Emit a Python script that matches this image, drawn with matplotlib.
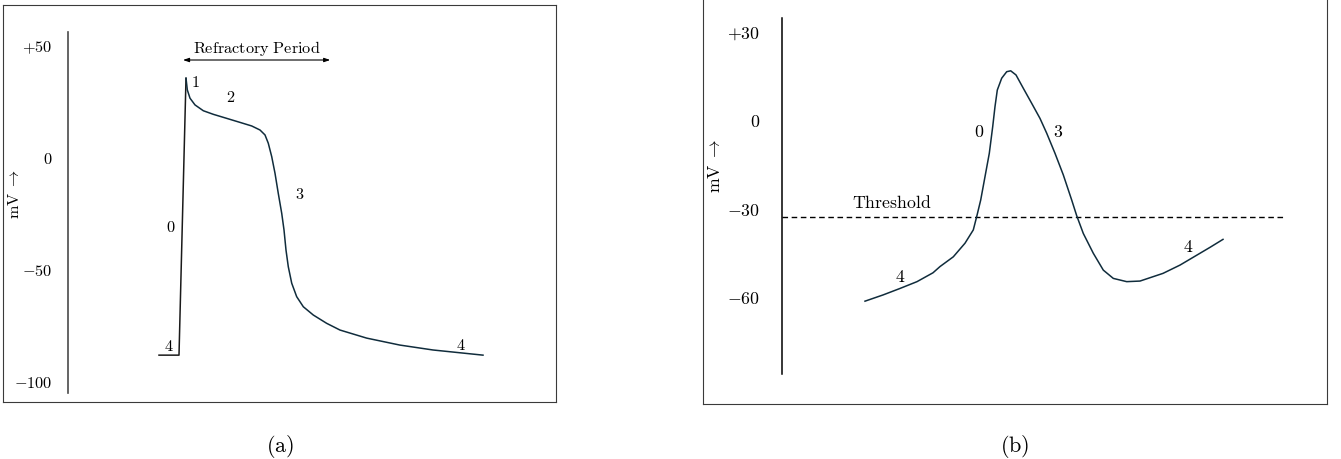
import matplotlib.pyplot as plt

plt.rcParams["mathtext.fontset"] = "cm"

W, H = 1341, 459
CURVE = "#102c3c"

# (a) ventricular action potential: time (ms), membrane potential (mV)
t_a = [-25, 0, 8.75, 10.4, 13.75, 20, 30.4, 42.9, 59.6, 76.25,
       90.9, 101.25, 107.5, 111.6, 115.9, 120, 124.1, 128.4, 131.25, 133.75,
       136.6, 140.9, 147.1, 155.4, 167.9, 184.6, 201.25, 234.6, 276, 317.5,
       380]
v_a = [-88, -88, 35.6, 30.4, 26.7, 23.7, 21.1, 19.5, 17.7, 15.9,
       14.3, 12.5, 10.3, 6.6, 0.6, -6.8, -15.8, -24.7, -32.1, -41.1,
       -48.5, -55.9, -61.9, -66.4, -70.1, -73.8, -76.8, -80.4, -83.5, -85.7,
       -88]
ticks_a = [50, 0, -50, -100]
ticklabels_a = ["+50", "0", "-50", "-100"]
phases_a = [(20, 33.6, "1"), (64, 27.2, "2"), (-10, -30.8, "0"),
            (151, -16.5, "3"), (-12.5, -84, "4"), (352, -83.5, "4")]
refractory = (5, 189)

# (b) pacemaker (SA node) action potential
t_b = [0, 18, 35, 52, 68, 75, 88.3, 100, 108.3, 111.7,
       115.7, 120, 124.3, 127.7, 130, 132.3, 136.7, 141.7, 145.7, 151,
       158.3, 166.7, 175, 181.7, 190, 198.3, 206.7, 211.7, 218.3, 228.3,
       238.3, 248.3, 261.7, 275, 298, 315, 332, 345, 358]
v_b = [-61.3, -59.2, -57.0, -54.7, -51.7, -49.6, -46.3, -41.7, -37.2, -32.7,
       -27.1, -19.2, -11.3, -2.3, 4.5, 10.1, 14.1, 16.3, 16.6, 15.2,
       10.7, 5.6, 0.5, -4.5, -11.3, -18.6, -27.1, -32.4, -38.4, -45.1,
       -50.8, -53.6, -54.7, -54.5, -51.9, -49.1, -45.7, -43.1, -40.4]
ticks_b = [30, 0, -30, -60]
ticklabels_b = ["+30", "0", "-30", "-60"]
threshold = -32.7
phases_b = [(35, -53.2, "4"), (114, -4.2, "0"), (193, -4.2, "3"), (323, -43.1, "4")]


def px_axes(fig, left, top, right, bottom):
    return fig.add_axes([left / W, 1 - bottom / H, (right - left) / W, (bottom - top) / H])


def frame(ax):
    ax.set_xticks([])
    ax.set_yticks([])
    for s in ax.spines.values():
        s.set_color("#3a3a3a")
        s.set_linewidth(0.8)


def mv_axis(ax, ticks, labels, pad, size, color, lw):
    ax.set_facecolor("none")
    for side in ["top", "right", "bottom"]:
        ax.spines[side].set_visible(False)
    ax.spines["left"].set_color(color)
    ax.spines["left"].set_linewidth(lw)
    ax.set_xticks([])
    ax.set_yticks(ticks, labels=[f"${s}$" for s in labels])
    ax.tick_params(axis="y", length=0, pad=pad, labelsize=size)
    ax.set_ylabel(r"$\mathrm{mV}\;\rightarrow$", fontsize=size)


fig = plt.figure(figsize=(W / 100, H / 100), dpi=100)

# --- panel (a) ---
frame(px_axes(fig, 3, 5, 556, 402))
ax = px_axes(fig, 68, 32, 556, 393)
ax.set_xlim(-138.75, 471.25)
ax.set_ylim(-104.9, 56.25)
mv_axis(ax, ticks_a, ticklabels_a, 11.5, 11.7, "#4a4a4a", 1.2)
ax.yaxis.set_label_coords(-0.094, 0.551)
ax.plot(t_a[:3], v_a[:3], color="#1a1a1a", lw=1.1)
ax.plot(t_a[2:], v_a[2:], color=CURVE, lw=1.1)
for x, y, s in phases_a:
    ax.text(x, y, f"${s}$", ha="center", va="center", fontsize=11.7)
ax.annotate("", xy=(refractory[0], 43.75), xytext=(refractory[1], 43.75),
            arrowprops=dict(arrowstyle="<|-|>,head_length=0.35,head_width=0.12",
                            lw=0.8, color="black", shrinkA=0, shrinkB=0))
ax.text(sum(refractory) / 2, 49, r"$\mathrm{Refractory\ Period}$",
        ha="center", va="center", fontsize=11.7)

# --- panel (b) ---
frame(px_axes(fig, 703, -3, 1327, 404))
bx = px_axes(fig, 782, 18, 1327, 374)
bx.set_xlim(-83, 462)
bx.set_ylim(-85.93, 34.46)
mv_axis(bx, ticks_b, ticklabels_b, 15.8, 12.8, "black", 1.1)
bx.yaxis.set_label_coords(-0.106, 0.584)
bx.hlines(threshold, -83, 418, colors="black", lw=1.0, linestyles=(0, (4, 2.6)))
bx.text(27, -28.2, r"$\mathrm{Threshold}$", ha="center", va="center", fontsize=12.8)
bx.plot(t_b, v_b, color=CURVE, lw=1.1)
for x, y, s in phases_b:
    bx.text(x, y, f"${s}$", ha="center", va="center", fontsize=12.8)

fig.text(280 / W, 1 - 446 / H, r"$(\mathrm{a})$", ha="center", va="center", fontsize=16)
fig.text(1015 / W, 1 - 446 / H, r"$(\mathrm{b})$", ha="center", va="center", fontsize=16)

fig.savefig("out.png", dpi=100)
